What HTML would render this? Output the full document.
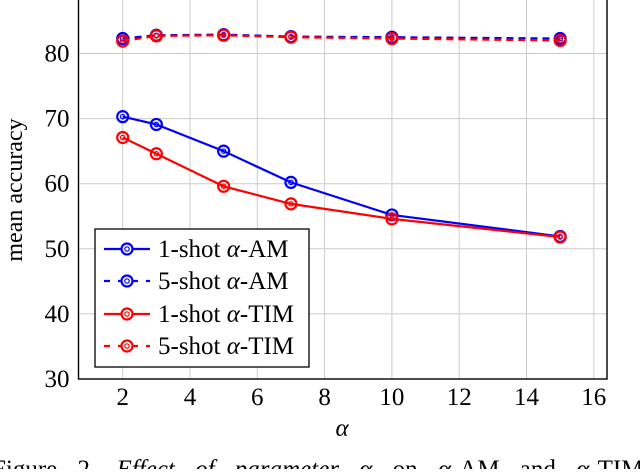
<!DOCTYPE html>
<html><head><meta charset="utf-8"><style>
body{margin:0;background:#fff;width:640px;height:469px;overflow:hidden}
svg text{font-family:"Liberation Serif",serif;fill:#000}
</style></head><body>
<svg id="chart" width="640" height="469" xmlns="http://www.w3.org/2000/svg"></svg>
<script>
const alphas=[2,3,5,7,10,15];
const am1=[70.3,69.1,65.0,60.2,55.2,51.9];
const am5=[82.3,82.8,82.9,82.6,82.5,82.3];
const tim1=[67.1,64.6,59.6,56.9,54.6,51.8];
const tim5=[81.9,82.7,82.8,82.5,82.3,82.0];
const xTicks=[2,4,6,8,10,12,14,16];
const yTicks=[30,40,50,60,70,80];
const seriesNames=["1-shot α-AM","5-shot α-AM","1-shot α-TIM","5-shot α-TIM"];

const L=78.5,R=607,T=0,B=379;
const X=v=>122.7+(v-2)*33.65;
const Y=v=>379-(v-30)*6.51;
const svg=document.getElementById('chart');
const NS='http://www.w3.org/2000/svg';
function mk(tag,attrs,parent){const e=document.createElementNS(NS,tag);for(const k in attrs)e.setAttribute(k,attrs[k]);(parent||svg).appendChild(e);return e;}

for(const t of xTicks){
 const g=mk('line',{x1:X(t),x2:X(t),y1:T,y2:B,stroke:'#ccc','stroke-width':1});
 
 
 const tx=mk('text',{x:X(t),y:B+26,'text-anchor':'middle','font-size':25});
 tx.textContent=t;
 
 
}
for(const t of yTicks){
 const g=mk('line',{x1:L,x2:R,y1:Y(t),y2:Y(t),stroke:'#ccc','stroke-width':1});
 
 
 const tx=mk('text',{x:L-9,y:Y(t)+8,'text-anchor':'end','font-size':25});
 tx.textContent=t;
 
 
}
const frame=mk('rect',{x:L,y:T-1,width:R-L,height:B-T+1,fill:'none',stroke:'#000','stroke-width':1.4});



const defs=[[am1,'#0000ff',''],[am5,'#0000ff','7 5'],[tim1,'#ff0000',''],[tim5,'#ff0000','7 5']];
const names=['series-1shot-am','series-5shot-am','series-1shot-tim','series-5shot-tim'];
defs.forEach(([vals,c,d],i)=>{
 const g=mk('g',{});
 
 
 const p=mk('polyline',{points:alphas.map((a,j)=>X(a)+','+Y(vals[j])).join(' '),fill:'none',stroke:c,'stroke-width':2.2,'stroke-dasharray':d},g);
 
 
 alphas.forEach((a,j)=>{
  const m=mk('circle',{cx:X(a),cy:Y(vals[j]),r:5.5,fill:'none',stroke:c,'stroke-width':2.2},g);
  
  
  mk('circle',{cx:X(a),cy:Y(vals[j]),r:2.2,fill:'none',stroke:c,'stroke-width':1.2},g);
 });
});

const lg=mk('g',{});


mk('rect',{x:95,y:229,width:214,height:138,fill:'#fff',stroke:'#000','stroke-width':1.3},lg);
const ly=[249,281,314,346];
defs.forEach(([v,c,d],i)=>{
 const e=mk('g',{},lg);
 
 
 mk('line',{x1:104,x2:150,y1:ly[i],y2:ly[i],stroke:c,'stroke-width':2.2,'stroke-dasharray':d?'6 8':''},e);
 mk('circle',{cx:127,cy:ly[i],r:5.5,fill:'#fff',stroke:c,'stroke-width':2.2},e);
 mk('circle',{cx:127,cy:ly[i],r:2.2,fill:'none',stroke:c,'stroke-width':1.2},e);
 const t=mk('text',{x:158,y:ly[i]+8,'font-size':25},e);
 const parts=seriesNames[i].split('α');
 t.appendChild(document.createTextNode(parts[0]));
 const ts=mk('tspan',{'font-style':'italic'},t);ts.textContent='α';
 t.appendChild(document.createTextNode(parts[1]));
});

const xt=mk('text',{x:342,y:436,'text-anchor':'middle','font-size':25,'font-style':'italic'});
xt.textContent='α';


const yt=mk('text',{x:0,y:0,'text-anchor':'middle','font-size':24,transform:'translate(22,190) rotate(-90)'});
yt.textContent='mean accuracy';


const cap=mk('text',{x:-8,y:477,'font-size':25,'word-spacing':'14'});


cap.innerHTML='Figure 2. <tspan font-style="italic">Effect of parameter α</tspan> on <tspan font-style="italic">α</tspan>-AM and <tspan font-style="italic">α</tspan>-TIM';
</script>
</body></html>
